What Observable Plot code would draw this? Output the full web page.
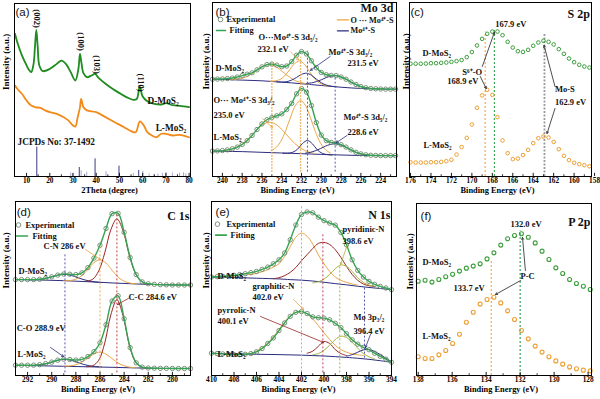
<!DOCTYPE html>
<html><head><meta charset="utf-8">
<script src="https://cdn.jsdelivr.net/npm/d3@7"></script>
<script src="https://cdn.jsdelivr.net/npm/@observablehq/plot@0.6"></script>
<style>
body{margin:0;background:#fff;}
#fig{position:relative;width:600px;height:399px;overflow:hidden;background:#fff;}
.panel{position:absolute;}
</style></head><body><div id="fig"></div>
<script>
// ---------- (a) XRD ----------
const xrdD = [[5,82.5],[6,77.6],[8,70],[10,64.2],[11,61.7],[12,60.3],[13,65],[13.6,74.8],[14.2,84.8],[14.8,74.8],[15.5,64.2],[17,60.9],[20,62.2],[23,65.1],[25,67],[27,65],[29,60.3],[31,55.5],[32.3,62],[33,70.9],[33.6,66],[34.5,59.7],[36,57.4],[38,58.4],[39.5,59.3],[41,57],[44,53.6],[47,50.7],[50,48.2],[53,45.9],[56,44.3],[57.5,44.9],[58.7,52],[60,46.2],[62,43.5],[65,42],[68,41.6],[70,42.4],[73,41.2],[76,40.8],[80,40.1]];
const xrdL = [[5,52.6],[6,50.7],[8,47.8],[10,43.9],[12,41],[14,40],[16,39.7],[18,38.2],[20,37.2],[23,36.2],[26,34.3],[28,32.4],[30,29.5],[31,28.9],[32,34.3],[33,40],[33.5,44.9],[34.5,40],[36,38.2],[40,37.2],[44,34.3],[48,31.4],[52,28.5],[55,26.2],[57,25.6],[58.8,31.8],[60.5,29.5],[62,25.6],[64,23.7],[66,22.7],[68,24.7],[70,24.7],[73,23.7],[76,24.1],[80,22.7]];
const sticksDark = [[14.4,17],[32.7,5.2],[39.5,10.2],[49.8,6.0],[58.3,3.5]];
const sticksLight = [[29.0,2.0],[29.9,1.5],[33.5,3.3],[35.9,2.5],[44.2,2.8],[56.0,1.8],[60.1,3.0],[62.8,1.5],[65.0,1.0],[66.6,1.4],[68.5,1.8],[70.1,2.2],[72.8,2.0],[75.9,2.0],[77.6,2.2],[78.6,1.4]];
const ticksA = [10,20,30,40,50,60,70,80];
const minorA = [15,25,35,45,55,65,75];

// ---------- (b) Mo 3d ----------
const bE = d3.range(241, 222.4, -0.5);
const bDexp = [55.9,56.0,56.1,56.3,56.6,57.2,58.0,58.8,59.6,61.3,63.0,64.3,64.6,64.0,63.1,63.5,66.0,69.7,71.8,70.4,66.5,62.5,59.8,58.5,58.1,58.0,57.2,55.9,54.3,52.9,51.7,51.0,50.6,50.4,50.3,50.2,50.2,50.2];
const bLexp = [14.6,14.7,14.9,15.3,15.9,16.9,18.4,20.6,23.6,27.0,30.2,32.6,33.9,34.9,36.0,38.5,42.0,47.5,50.5,48.5,40.8,31.0,23.8,20.6,19.6,19.2,18.3,16.9,15.3,13.9,13.0,12.5,12.2,12.1,12.0,12.0,12.0,12.0];
const bD_O1 = [[239.2,55.65],[238.7,55.85],[238.2,56.25],[237.7,57.0],[237.2,58.45],[236.7,60.25],[236.2,62.25],[235.7,63.8],[235.2,64.2],[234.7,63.4],[234.2,61.5],[233.7,59.2],[233.2,57.1],[232.7,55.25],[232.2,54.2],[231.7,53.5],[231.2,53.0]];
const bD_O2 = [[235.2,54.8],[234.7,54.9],[234.2,55.7],[233.7,57.8],[233.2,61.4],[232.7,64.85],[232.2,66.4],[231.7,64.45],[231.2,60.4],[230.7,56.35],[230.2,53.8],[229.7,52.55],[229.2,52.0]];
const bD_B1 = [[234.5,54.4],[234.0,54.3],[233.5,54.5],[233.0,55.4],[232.5,56.95],[232.0,58.7],[231.5,59.35],[231.0,58.2],[230.5,55.95],[230.0,53.9],[229.5,52.55],[229.0,51.9],[228.5,51.55]];
const bD_B2 = [[231.5,53.5],[231.0,53.8],[230.5,54.55],[230.0,55.6],[229.5,56.85],[229.0,57.7],[228.5,57.95],[228.0,57.2],[227.5,55.9],[227.0,54.2],[226.5,52.75],[226.0,51.6],[225.5,50.95],[225.0,50.55]];
const bD_base = [[241,55.9],[240,55.8],[239,55.6],[238,55.4],[237,55.2],[236,55.0],[235,54.6],[234,54.2],[233,53.8],[232,53.3],[231,52.8],[230,52.3],[229,51.8],[228,51.3],[227,50.9],[226,50.6],[225,50.4],[224,50.3],[223,50.2],[222.4,50.2]];
const bL_O1 = [[239.7,14.95],[239.2,15.5],[238.7,16.45],[238.2,17.95],[237.7,20.05],[237.2,22.85],[236.7,25.85],[236.2,28.55],[235.7,30.55],[235.2,31.15],[234.7,30.35],[234.2,28.15],[233.7,25.25],[233.2,22.05],[232.7,19.05],[232.2,16.75],[231.7,15.05],[231.2,13.95],[230.7,13.25]];
const bL_O2 = [[235.1,14.7],[234.6,16.5],[234.1,20.2],[233.6,26.4],[233.1,34.2],[232.6,41.0],[232.1,43.6],[231.6,40.8],[231.1,33.8],[230.6,25.8],[230.1,19.4],[229.6,15.5],[229.1,13.5]];
const bL_B1 = [[233.9,13.4],[233.4,13.4],[232.9,13.9],[232.4,15.7],[231.9,19.0],[231.4,20.7],[230.9,18.8],[230.4,15.3],[229.9,13.3],[229.4,12.6],[228.9,12.4]];
const bL_B2 = [[231.6,13.45],[231.1,13.9],[230.6,14.8],[230.1,16.0],[229.6,17.4],[229.1,18.4],[228.6,18.8],[228.1,18.2],[227.6,17.05],[227.1,15.5],[226.6,14.15],[226.1,13.1],[225.6,12.5],[225.1,12.2]];
const bL_base = [[241,14.6],[240,14.5],[239,14.4],[238,14.3],[237,14.1],[236,13.9],[235,13.7],[234,13.5],[233,13.3],[232,13.1],[231,12.9],[230,12.7],[229,12.5],[228,12.35],[227,12.2],[226,12.1],[225,12.05],[224,12.0],[222.4,12.0]];
const ticksB = [240,238,236,234,232,230,228,226,224];
const minorB = [241,239,237,235,233,231,229,227,225,223];

// ---------- (c) S 2p ----------
const cE = d3.range(176, 158.4, -0.5);
const cD = [64.8,64.8,64.8,64.9,65.1,65.1,65.3,65.5,65.9,66.3,66.9,68.6,71.5,75.3,79.1,82.0,83.3,83.3,81.2,77.4,74.1,72.0,71.6,72.8,75.1,77.0,78.0,77.4,75.9,73.2,70.5,67.8,65.7,64.2,63.2,62.6];
const cL = [8.2,8.0,8.0,8.0,8.2,8.2,8.4,8.8,9.6,12.6,16.9,22.2,29.9,39.5,46.6,49.8,46.9,34.1,20.7,13.4,10.0,10.3,12.3,15.3,19.2,22.0,23.0,22.4,19.9,15.7,11.9,9.4,7.9,7.1,6.5,5.9];
const ticksC = [176,174,172,170,168,166,164,162,160,158];
const minorC = [175,173,171,169,167,165,163,161,159];

// ---------- (d) C 1s ----------
const dE = d3.range(293, 278.4, -0.5);
const dDexp = [55.1,55.1,55.1,55.1,55.3,55.9,56.7,57.7,58.3,58.2,58.0,59.0,62.0,67.5,74.8,84.5,93.0,93.2,82.3,67.8,58.0,53.8,52.7,52.4,52.2,52.1,52.0,52.0,52.0,52.0];
const dLexp = [5.9,5.9,5.9,5.95,6.2,6.8,7.7,8.8,9.4,9.2,8.9,9.3,10.9,13.7,18.8,29.2,42.8,45.8,32.6,16.0,7.3,4.8,4.3,4.2,4.1,4.1,4.05,4.0,4.0,4.0];
const dD_CO = [[291.9,55.0],[291.4,55.05],[290.9,55.3],[290.4,55.95],[289.9,56.9],[289.4,57.8],[288.9,58.15],[288.4,57.55],[287.9,56.4],[287.4,55.2],[286.9,54.3],[286.4,53.8],[285.9,53.5]];
const dD_CN = [[289.0,54.45],[288.5,54.55],[288.0,55.35],[287.5,57.4],[287.0,61.05],[286.5,64.9],[286.0,66.45],[285.5,64.6],[285.0,60.5],[284.5,56.55],[284.0,54.2],[283.5,53.1],[283.0,52.7]];
const dD_CC = [[287.1,54.1],[286.6,55.35],[286.1,60.15],[285.6,70.6],[285.1,83.75],[284.6,90.0],[284.1,83.45],[283.6,70.0],[283.1,59.3],[282.6,54.2],[282.1,52.65]];
const dD_base = [[293,55.1],[291,54.9],[289,54.5],[287,53.9],[285,53.2],[283,52.6],[281,52.2],[278.5,52.0]];
const dL_CO = [[291.9,5.65],[291.4,5.75],[290.9,6.1],[290.4,6.8],[289.9,7.9],[289.4,8.9],[288.9,9.3],[288.4,8.75],[287.9,7.65],[287.4,6.45],[286.9,5.6],[286.4,5.15],[285.9,4.95]];
const dL_CN = [[289.0,5.4],[288.5,5.5],[288.0,6.2],[287.5,7.7],[287.0,10.05],[286.5,12.4],[286.0,13.4],[285.5,12.25],[285.0,9.75],[284.5,7.2],[284.0,5.6],[283.5,4.75],[283.0,4.45]];
const dL_CC = [[287.1,5.07],[286.6,5.6],[286.1,8.8],[285.6,18.8],[285.1,34.9],[284.6,43.55],[284.1,34.65],[283.6,18.4],[283.1,8.25],[282.6,4.95],[282.1,4.3]];
const dL_base = [[293,5.9],[291,5.6],[289,5.3],[287,5.0],[285,4.7],[283,4.35],[281,4.1],[278.5,4.0]];
const ticksD = [292,290,288,286,284,282,280];
const minorD = [291,289,287,285,283,281,279];

// ---------- (e) N 1s ----------
const eE = d3.range(410, 393.9, -0.5);
const eDexp = [56.6,56.8,57.0,57.2,57.6,58.0,58.5,59.1,59.8,61.0,62.3,64.2,66.5,70.4,78.0,86.5,92.5,94.0,93.5,91.0,89.0,87.6,86.4,82.2,75.1,66.5,60.4,56.6,54.1,52.4,51.2,50.3,49.3];
const eLexp = [12.8,12.6,12.4,12.2,12.0,12.0,12.2,12.6,13.6,15.5,18.4,21.6,25.8,30.2,34.0,36.3,36.7,35.6,33.7,33.2,33.0,32.0,30.0,27.5,24.0,20.5,18.0,16.2,14.8,12.8,11.0,9.4,7.6];
const eD_gra = [[407.0,57.7],[406.0,58.7],[405.0,60.8],[404.5,62.3],[404.0,64.2],[403.5,68.5],[403.0,74.0],[402.5,79.5],[402.0,81.8],[401.5,80.0],[401.0,75.5],[400.5,69.3],[400.0,64.2],[399.5,59.8],[399.0,56.6],[398.5,54.7],[398.0,53.5],[397.5,52.6],[397.0,52.0]];
const eD_pyr = [[404.5,55.6],[404.0,56.2],[403.5,57.4],[403.0,59.3],[402.5,62.1],[402.0,66.0],[401.5,69.5],[401.0,73.0],[400.5,75.9],[400.0,76.5],[399.5,75.3],[399.0,72.3],[398.5,67.9],[398.0,62.7],[397.5,58.1],[397.0,54.7],[396.5,52.6],[396.0,51.6],[395.5,51.1]];
const eD_pyd = [[401.0,53.2],[400.5,53.9],[400.0,55.4],[399.5,58.1],[399.0,61.4],[398.5,63.5],[398.0,62.7],[397.5,59.8],[397.0,56.2],[396.5,53.5],[396.0,52.0],[395.5,51.2]];
const eD_base = [[410,56.6],[408,56.3],[406,55.9],[404,55.5],[403,55.1],[402,54.8],[401,54.3],[400,53.6],[399,52.8],[398,52.1],[397,51.3],[396,50.6],[395,50.0],[394,49.3]];
const eL_gra = [[407.0,12.2],[406.5,12.8],[406.0,14.0],[405.5,15.9],[405.0,18.7],[404.5,22.2],[404.0,26.4],[403.5,30.6],[403.0,34.2],[402.5,36.3],[402.0,36.7],[401.5,35.4],[401.0,32.5],[400.5,28.7],[400.0,24.5],[399.5,20.7],[399.0,17.4],[398.5,14.9],[398.0,13.4],[397.5,12.4],[397.0,11.9],[396.5,11.5]];
const eL_pyr = [[401.5,12.8],[401.0,14.0],[400.5,16.8],[400.0,19.5],[399.5,18.4],[399.0,14.9],[398.5,12.6],[398.0,11.5]];
const eL_pyd = [[401.0,11.9],[400.5,12.6],[400.0,14.5],[399.5,17.4],[399.0,20.7],[398.5,22.6],[398.0,21.8],[397.5,19.1],[397.0,15.7],[396.5,12.6],[396.0,10.7],[395.5,9.6]];
const eL_mo = [[398.0,11.1],[397.5,12.0],[397.0,13.4],[396.5,14.7],[396.0,14.9],[395.5,13.8],[395.0,12.0],[394.5,9.9],[394.0,8.0]];
const eL_base = [[410,12.8],[408,12.4],[406,12.2],[404,12.0],[402,11.7],[400,11.2],[398,10.4],[397,9.9],[396,9.3],[395,8.5],[394,7.6]];
const ticksE = [410,408,406,404,402,400,398,396,394];
const minorE = [409,407,405,403,401,399,397,395];

// ---------- (f) P 2p ----------
const fE = d3.range(138, 127.8, -0.405);
const fD = [54.8,55.4,54.3,55.8,57.4,58.9,60.7,62.4,63.6,64.9,67.8,71.3,75.8,79.5,81.4,82.4,80.4,77.1,72.3,67.4,62.6,59.3,55.8,53.5,51.9,50.0];
const fL = [10.9,9.9,9.9,12.0,14.5,18.6,24.0,31.0,36.8,41.5,44.2,45.5,42.2,37.6,32.6,26.2,21.3,17.1,13.6,10.9,8.5,6.6,5.0,3.9,3.1,2.7];
const ticksF = [138,136,134,132,130,128];
const minorF = [137,135,133,131,129];

// ---------- styling ----------
const SERIF = "'Liberation Serif','Times New Roman',serif";
const SANS = "'Liberation Sans',Arial,sans-serif";
const EXP = "#6f866f", FIT = "#37a352", ORG = "#eaa64a", NAVY = "#2c2e7e", RED = "#9a2424", OLIVE = "#a9b43a";
const GRN = "#3b9e3b", ORC = "#eca034";
const fig = document.getElementById("fig");

const rows = (E, V) => E.map((e, i) => ({e, v: V[i]}));
const comp = (arr, stroke, w = 1) => Plot.line(arr, {x: d => d[0], y: d => d[1], stroke, strokeWidth: w, curve: "catmull-rom"});
const expMarks = (E, V) => {
  const r = rows(E, V);
  return [
    Plot.dot(r, {x: "e", y: "v", r: 2.2, stroke: EXP, strokeWidth: 0.9, fill: "none"}),
    Plot.line(r, {x: "e", y: "v", stroke: FIT, strokeWidth: 1.4, curve: "catmull-rom"})
  ];
};
const txt = (data, o = {}) => Plot.text(data, {x: "x", y: "y", text: "t", textAnchor: "start", fontFamily: SERIF, fontWeight: "bold", fontSize: 8.5, fill: "#111", ...o});
const tag = (data) => Plot.text(data, {x: "x", y: "y", text: "t", textAnchor: "start", fontFamily: SANS, fontSize: 11.5, fill: "#111"});
const ttl = (data) => Plot.text(data, {x: "x", y: "y", text: "t", textAnchor: "end", fontFamily: SERIF, fontWeight: "bold", fontSize: 12, fill: "#111"});
const vlines = (list, w = 1.2, dash = "2,2") => Plot.ruleX(list, {x: "e", y1: "y1", y2: "y2", stroke: "c", strokeWidth: w, strokeDasharray: dash});
const arrows = (list) => Plot.arrow(list, {x1: "x1", y1: "y1", x2: "x2", y2: "y2", stroke: "c", strokeWidth: 0.8, headLength: 4});
const legend = (cx, cy, lx1, lx2, ly, tx1, tx2) => [
  Plot.dot([{x: cx, y: cy}], {x: "x", y: "y", r: 2.3, stroke: EXP, strokeWidth: 0.9, fill: "none"}),
  Plot.line([[lx1, ly], [lx2, ly]], {x: d => d[0], y: d => d[1], stroke: FIT, strokeWidth: 1.6}),
  txt([{x: tx1, y: cy, t: "Experimental"}, {x: tx2, y: ly, t: "Fitting"}], {fontSize: 8.4})
];

function build(cfg) {
  const [left, top, width, height] = cfg.pos;
  const [ml, mr, mt, mb] = cfg.m;
  const marks = [
    ...cfg.marks,
    Plot.frame({stroke: "#000", strokeWidth: 1}),
    Plot.ruleX(cfg.minor, {x: d => d, y1: 0, y2: 1.0, stroke: "#000", strokeWidth: 0.8}),
    Plot.ruleX(cfg.ticks, {x: d => d, y1: 0, y2: 1.8, stroke: "#000", strokeWidth: 0.9}),
    Plot.axisX(cfg.ticks, {anchor: "bottom", tickSize: 0, tickPadding: 1, label: null, fontSize: 7.3, fontWeight: "bold", fontFamily: SERIF, tickFormat: d => String(d)}),
    Plot.text([cfg.xlabel], {frameAnchor: "bottom", dy: 16.5, dx: cfg.xdx, text: d => d, fontSize: 8.4, fontWeight: "bold", fontFamily: SERIF, fill: "#000"}),
    Plot.text(["Intensity (a.u.)"], {frameAnchor: "left", dx: cfg.ydx, rotate: -90, text: d => d, fontSize: 9, fontWeight: "bold", fontFamily: SERIF, fill: "#000"})
  ];
  const svg = Plot.plot({
    width, height, marginLeft: ml, marginRight: mr, marginTop: mt, marginBottom: mb,
    x: {domain: cfg.xd, axis: null},
    y: {domain: [0, 100], axis: null},
    color: {type: "identity"},
    style: {background: "transparent", overflow: "visible"},
    marks
  });
  const div = document.createElement("div");
  div.className = "panel";
  div.style.left = left + "px"; div.style.top = top + "px";
  div.style.width = width + "px"; div.style.height = height + "px";
  div.appendChild(svg);
  fig.appendChild(div);
}

// (a)
build({
  pos: [0, 0, 200, 199], m: [14, 10, 3, 23], xd: [4.8, 80.6], ticks: ticksA, minor: minorA,
  xlabel: "2Theta (degree)", xdx: 7, ydx: -8,
  marks: [
    Plot.ruleX(sticksLight, {x: d => d[0], y1: 0, y2: d => d[1], stroke: "#a9a9d6", strokeWidth: 1}),
    Plot.ruleX(sticksDark, {x: d => d[0], y1: 0, y2: d => d[1], stroke: "#3b3b80", strokeWidth: 1}),
    Plot.line(xrdD, {x: d => d[0], y: d => d[1], stroke: "#1e8c1e", strokeWidth: 1.8, curve: "catmull-rom"}),
    Plot.line(xrdL, {x: d => d[0], y: d => d[1], stroke: "#f28a1a", strokeWidth: 1.8, curve: "catmull-rom"}),
    tag([{x: 5.2, y: 94.8, t: "(a)"}]),
    txt([{x: 14.3, y: 91.3, t: "(002)"}, {x: 33.3, y: 78, t: "(100)"}, {x: 40.1, y: 64.7, t: "(103)"}, {x: 59.1, y: 54.3, t: "(110)"}], {textAnchor: "middle", rotate: 90, fontSize: 8.5}),
    txt([{x: 62.1, y: 43.9, t: "D-MoS₂"}, {x: 65.6, y: 28.3, t: "L-MoS₂"}, {x: 6.1, y: 20.2, t: "JCPDs No: 37-1492"}], {fontSize: 9.3})
  ]
});

// (b)
build({
  pos: [200, 0, 200, 199], m: [12, 4, 2, 23], xd: [241, 222.4], ticks: ticksB, minor: minorB,
  xlabel: "Binding Energy (eV)", xdx: -7, ydx: -6,
  marks: [
    comp(bD_base, NAVY), comp(bL_base, NAVY),
    comp(bD_O1, ORG), comp(bD_O2, ORG), comp(bD_B1, NAVY), comp(bD_B2, NAVY),
    comp(bL_O1, ORG), comp(bL_O2, ORG), comp(bL_B1, NAVY), comp(bL_B2, NAVY),
    ...expMarks(bE, bDexp), ...expMarks(bE, bLexp),
    vlines([{e: 235.0, y1: 2.5, y2: 65.5, c: ORG}, {e: 232.1, y1: 2.5, y2: 68.5, c: ORG}], 1.4, "1.5,1.5"),
    vlines([{e: 231.4, y1: 2.5, y2: 72, c: "#5558b0"}, {e: 228.6, y1: 2.5, y2: 58, c: "#5558b0"}], 1, "2,2"),
    tag([{x: 240.7, y: 94.3, t: "(b)"}]),
    ttl([{x: 222.7, y: 96.5, t: "Mo 3d"}]),
    ...legend(240.19, 90.2, 240.6, 239.69, 83.9, 239.59, 239.28),
    Plot.line([[228.37, 90.0], [227.26, 90.0]], {x: d => d[0], y: d => d[1], stroke: ORG, strokeWidth: 1.4}),
    Plot.line([[228.37, 83.7], [227.26, 83.7]], {x: d => d[0], y: d => d[1], stroke: NAVY, strokeWidth: 1.4}),
    txt([{x: 227.06, y: 90.0, t: "O ··· Mo⁴⁺-S"}, {x: 227.06, y: 83.7, t: "Mo⁴⁺-S"}], {fontSize: 8.2}),
    txt([
      {x: 236.35, y: 79.8, t: "O···Mo⁴⁺-S 3d₅/₂"}, {x: 236.45, y: 73.2, t: "232.1 eV"},
      {x: 229.28, y: 71.3, t: "Mo⁴⁺-S 3d₃/₂"}, {x: 227.36, y: 64.9, t: "231.5 eV"},
      {x: 240.7, y: 62.1, t: "D-MoS₂"},
      {x: 240.9, y: 43.7, t: "O··· Mo⁴⁺-S 3d₃/₂"}, {x: 240.9, y: 35.1, t: "235.0 eV"},
      {x: 227.77, y: 33.9, t: "Mo⁴⁺-S 3d₅/₂"}, {x: 227.36, y: 25.3, t: "228.6 eV"},
      {x: 240.9, y: 22.4, t: "L-MoS₂"}
    ]),
    arrows([
      {x1: 233.1, y1: 71.5, x2: 232.3, y2: 67.0, c: ORG},
      {x1: 229.1, y1: 69, x2: 231.1, y2: 61, c: NAVY},
      {x1: 235.95, y1: 33.3, x2: 234.94, y2: 28.2, c: ORG},
      {x1: 227.4, y1: 23.6, x2: 228.5, y2: 19.3, c: NAVY}
    ])
  ]
});

// (c)
build({
  pos: [400, 0, 200, 199], m: [9, 9, 2, 23], xd: [176.1, 158.3], ticks: ticksC, minor: minorC,
  xlabel: "Binding Energy (eV)", xdx: -3, ydx: -3.5,
  marks: [
    vlines([{e: 168.7, y1: 0, y2: 83, c: "#f2a446"}, {e: 167.8, y1: 0, y2: 85, c: "#2f9e4a"}], 1.1, "2,2"),
    vlines([{e: 162.9, y1: 0, y2: 82, c: "#9a9a9a"}], 1.8, "2,1.5"),
    Plot.dot(rows(cE, cD), {x: "e", y: "v", r: 1.8, stroke: GRN, strokeWidth: 1, fill: "none"}),
    Plot.dot(rows(cE, cL), {x: "e", y: "v", r: 1.8, stroke: ORC, strokeWidth: 1, fill: "none"}),
    tag([{x: 176.0, y: 94.3, t: "(c)"}]),
    ttl([{x: 158.46, y: 93.1, t: "S 2p"}]),
    txt([
      {x: 167.72, y: 87.4, t: "167.9 eV"}, {x: 174.83, y: 70.7, t: "D-MoS₂"},
      {x: 170.93, y: 59.8, t: "S⁶⁺-O"}, {x: 172.4, y: 54.6, t: "168.9 eV"},
      {x: 161.87, y: 50, t: "Mo-S"}, {x: 161.87, y: 42.5, t: "162.9 eV"},
      {x: 174.74, y: 17.8, t: "L-MoS₂"}
    ]),
    arrows([
      {x1: 168.98, y1: 63.2, x2: 167.8, y2: 82.8, c: "#222"},
      {x1: 169.18, y1: 57.5, x2: 168.6, y2: 50.6, c: "#222"},
      {x1: 161.87, y1: 51.7, x2: 162.94, y2: 75.3, c: "#222"},
      {x1: 161.87, y1: 39.1, x2: 162.65, y2: 24.7, c: "#222"}
    ])
  ]
});

// (d)
build({
  pos: [0, 199, 200, 200], m: [15, 10, 2, 24], xd: [293, 278.5], ticks: ticksD, minor: minorD,
  xlabel: "Binding Energy (eV)", xdx: -5, ydx: -9,
  marks: [
    comp(dD_base, NAVY), comp(dL_base, NAVY),
    comp(dD_CO, NAVY), comp(dD_CN, ORG), comp(dD_CC, RED),
    comp(dL_CO, NAVY), comp(dL_CN, ORG), comp(dL_CC, RED),
    ...expMarks(dE, dDexp), ...expMarks(dE, dLexp),
    vlines([{e: 288.9, y1: 1.5, y2: 69.4, c: "#5558b0"}, {e: 286.0, y1: 1.5, y2: 73.5, c: ORG}, {e: 284.6, y1: 1.5, y2: 93, c: "#c04040"}], 1, "2,2"),
    tag([{x: 292.9, y: 93.7, t: "(d)"}]),
    ttl([{x: 278.58, y: 91.4, t: "C 1s"}]),
    ...legend(292.75, 86.5, 292.92, 292.0, 80.2, 292.17, 291.6),
    txt([
      {x: 290.68, y: 74.1, t: "C-N 286 eV"}, {x: 292.75, y: 59.8, t: "D-MoS₂"},
      {x: 283.64, y: 44.8, t: "C-C 284.6 eV"}, {x: 292.9, y: 27, t: "C-O 288.9 eV"},
      {x: 292.83, y: 12.1, t: "L-MoS₂"}
    ]),
    arrows([
      {x1: 287.2, y1: 72.4, x2: 285.96, y2: 66.7, c: ORG},
      {x1: 283.64, y1: 44.3, x2: 284.55, y2: 40.8, c: RED},
      {x1: 290.1, y1: 16.1, x2: 289.02, y2: 10.9, c: NAVY}
    ])
  ]
});

// (e)
build({
  pos: [200, 199, 200, 200], m: [11, 9, 2, 24], xd: [410, 394], ticks: ticksE, minor: minorE,
  xlabel: "Binding Energy (eV)", xdx: -3, ydx: -5,
  marks: [
    comp(eD_base, NAVY), comp(eL_base, NAVY),
    comp(eD_gra, ORG), comp(eD_pyr, RED), comp(eD_pyd, OLIVE),
    comp(eL_gra, ORG), comp(eL_pyr, RED), comp(eL_pyd, OLIVE), comp(eL_mo, NAVY),
    ...expMarks(eE, eDexp), ...expMarks(eE, eLexp),
    vlines([{e: 402.0, y1: 1.5, y2: 98, c: ORG}, {e: 400.1, y1: 1.5, y2: 81, c: "#c04060"}, {e: 398.6, y1: 1.5, y2: 63, c: OLIVE}, {e: 396.4, y1: 10, y2: 51, c: "#5558b0"}], 1, "2,2"),
    tag([{x: 409.64, y: 93.7, t: "(e)"}]),
    ttl([{x: 394.09, y: 92, t: "N 1s"}]),
    ...legend(409.47, 87.0, 409.64, 408.67, 80.7, 408.67, 408.31),
    txt([
      {x: 398.36, y: 83.9, t: "pyridinic-N"}, {x: 398.36, y: 77.0, t: "398.6 eV"},
      {x: 409.47, y: 56.9, t: "D-MoS₂"},
      {x: 406.36, y: 51.1, t: "graphitic-N"}, {x: 406.36, y: 44.8, t: "402.0 eV"},
      {x: 409.47, y: 37.4, t: "pyrrolic-N"}, {x: 409.47, y: 31.0, t: "400.1 eV"},
      {x: 397.38, y: 33.3, t: "Mo 3p₃/₂"}, {x: 397.38, y: 25.3, t: "396.4 eV"},
      {x: 409.47, y: 12.1, t: "L-MoS₂"}
    ]),
    arrows([
      {x1: 397.91, y1: 75.3, x2: 398.53, y2: 63.8, c: OLIVE},
      {x1: 402.71, y1: 43.7, x2: 401.82, y2: 37.9, c: ORG},
      {x1: 405.64, y1: 33.9, x2: 400.04, y2: 19.0, c: RED},
      {x1: 395.87, y1: 23.6, x2: 396.31, y2: 16.1, c: NAVY}
    ])
  ]
});

// (f)
build({
  pos: [400, 199, 200, 200], m: [16, 9, 4, 24], xd: [138.1, 127.8], ticks: ticksF, minor: minorF,
  xlabel: "Binding Energy (eV)", xdx: -3, ydx: -6,
  marks: [
    vlines([{e: 133.7, y1: 0, y2: 67.4, c: "#f2a446"}, {e: 132.0, y1: 0, y2: 84, c: "#2f9e4a"}], 1.1, "2,2"),
    Plot.dot(rows(fE, fD), {x: "e", y: "v", r: 2, stroke: GRN, strokeWidth: 1.1, fill: "none"}),
    Plot.dot(rows(fE, fL), {x: "e", y: "v", r: 2, stroke: ORC, strokeWidth: 1.1, fill: "none"}),
    tag([{x: 137.86, y: 92.4, t: "(f)"}]),
    ttl([{x: 127.86, y: 89, t: "P 2p"}]),
    txt([
      {x: 132.57, y: 87.8, t: "132.0 eV"}, {x: 137.75, y: 65.7, t: "D-MoS₂"},
      {x: 131.98, y: 57.6, t: "P-C"}, {x: 135.92, y: 50.6, t: "133.7 eV"},
      {x: 137.75, y: 22.7, t: "L-MoS₂"}
    ]),
    arrows([
      {x1: 131.69, y1: 61, x2: 131.86, y2: 80.2, c: "#222"},
      {x1: 131.98, y1: 55.2, x2: 133.45, y2: 47.1, c: "#222"}
    ])
  ]
});
</script></body></html>
